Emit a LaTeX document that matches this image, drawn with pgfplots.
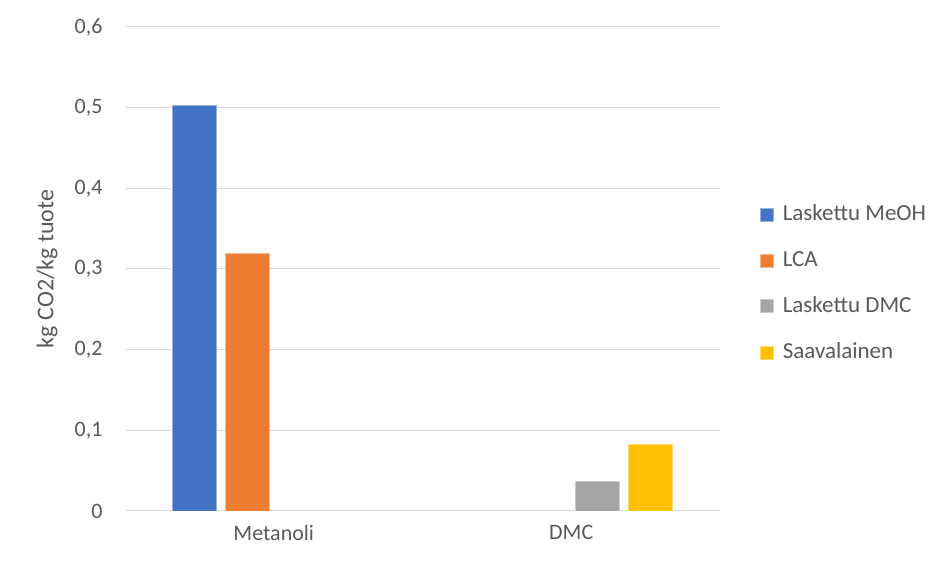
\documentclass[border=0pt]{standalone}
\usepackage{fontspec}
\setmainfont{Carlito}
\usepackage{pgfplots}
\pgfplotsset{compat=1.18}

\definecolor{cBlue}{HTML}{4472C4}
\definecolor{cOrange}{HTML}{ED7D31}
\definecolor{cGray}{HTML}{A5A5A5}
\definecolor{cYellow}{HTML}{FFC000}
\definecolor{txtGray}{HTML}{595959}
\definecolor{gridGray}{HTML}{D9D9D9}

\begin{document}
\fontsize{22}{26}\selectfont
\begin{tikzpicture}[x=1pt,y=1pt]
\useasboundingbox (0,0) rectangle (933,569);
\begin{axis}[
  at={(125pt,58pt)}, anchor=south west,
  scale only axis, width=595pt, height=484pt,
  xmin=-0.5, xmax=1.5, ymin=0, ymax=0.6,
  ybar=9pt, bar width=44pt,
  xtick={0,1}, xticklabels={Metanoli,DMC},
  ytick={0,0.1,0.2,0.3,0.4,0.5,0.6},
  /pgf/number format/.cd, fixed, precision=1, use comma, assume math mode=true,
  /pgfplots/.cd,
  ymajorgrids, grid style={draw=gridGray, line width=1pt},
  axis line style={draw=none},
  major tick length=0pt,
  tick label style={text=txtGray, font=\fontsize{22}{26}\selectfont},
  yticklabel style={xshift=-15pt},
  xticklabel style={yshift=-7pt},
  ylabel={kg CO2/kg tuote},
  ylabel style={at={(axis description cs:-0.131,0.5)}, anchor=center, text=txtGray, font=\fontsize{24}{28}\selectfont},
  legend style={at={(axis description cs:1,0.47)}, anchor=west, xshift=40pt,
    draw=none, fill=none, text=txtGray, font=\fontsize{23}{27}\selectfont,
    row sep=23pt, inner sep=0pt},
  legend cell align=left,
  legend image code/.code={\fill[#1] (0pt,-6.5pt) rectangle (13pt,6.5pt); \path (20pt,0pt);},
]
% each series only has a bar in one category
\addplot[fill=cBlue, draw=cBlue!55!white, line width=0.6pt] coordinates {(0,0.503)};
\addplot[fill=cOrange, draw=cOrange!55!white, line width=0.6pt] coordinates {(0,0.320)};
\addplot[fill=cGray, draw=cGray!55!white, line width=0.6pt] coordinates {(1,0.037)};
\addplot[fill=cYellow, draw=cYellow!55!white, line width=0.6pt] coordinates {(1,0.083)};
\legend{Laskettu MeOH, LCA, Laskettu DMC, Saavalainen}
\end{axis}
\end{tikzpicture}
\end{document}
